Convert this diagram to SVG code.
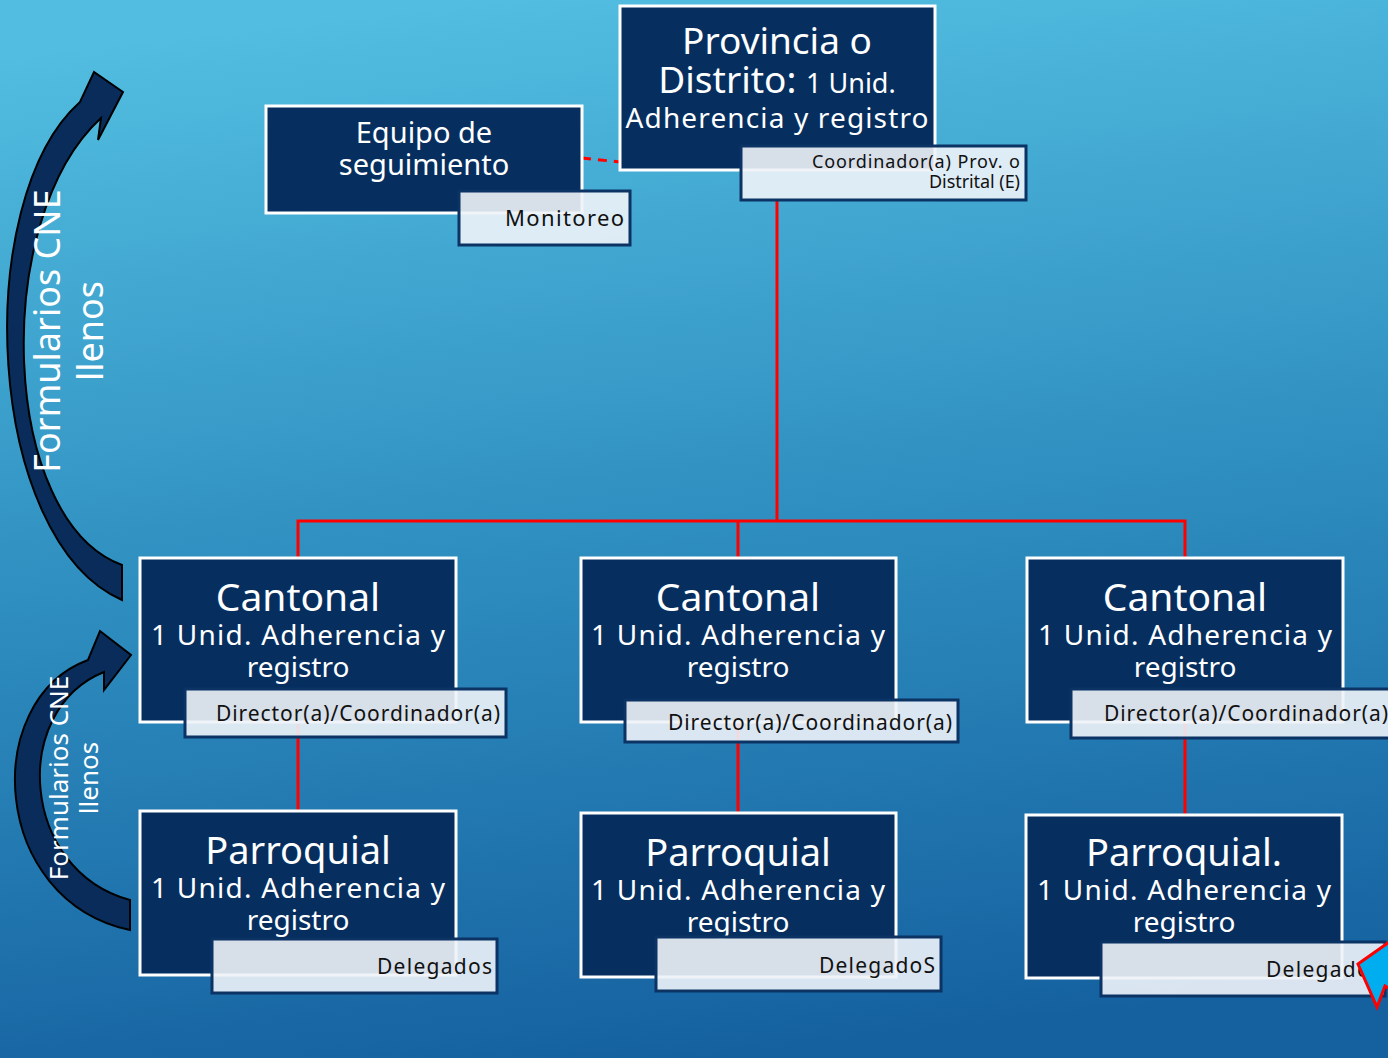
<svg xmlns="http://www.w3.org/2000/svg" width="1388" height="1058" viewBox="0 0 1388 1058">
<defs>
<linearGradient id="bg" x1="0.35" y1="0" x2="0.5" y2="1">
<stop offset="0" stop-color="#52bde0"/>
<stop offset="0.5" stop-color="#2f8fc0"/>
<stop offset="1" stop-color="#1561a0"/>
</linearGradient>
<style>
.node{fill:#062f60;stroke:#ffffff;stroke-width:3}
.lbl{fill:#eef3f8;fill-opacity:0.9;stroke:#0b3364;stroke-width:3}
.t{font-family:"Noto Sans","DejaVu Sans",sans-serif;fill:#ffffff;text-anchor:middle}
.l{font-family:"Noto Sans","DejaVu Sans",sans-serif;fill:#111111;text-anchor:end}
.red{stroke:#ff0000;stroke-width:3;fill:none}
.arr{fill:#092c5a;stroke:#000000;stroke-width:2}
.side{font-family:"Noto Sans","DejaVu Sans",sans-serif;fill:#ffffff;text-anchor:middle}
</style>
</defs>
<rect x="0" y="0" width="1388" height="1058" fill="url(#bg)"/>

<g id="arrows">
<path class="arr" d="M 122 600 C -15 540, -30 200, 80 102 L 94 72 L 123 92 L 98 140 L 101 118 C -10 220, 0 520, 122 565 Z"/>
<path class="arr" d="M 130 930 C -10 900, -20 700, 88 660 L 100 631 L 131 655 L 104 690 L 104 672 C 10 710, 20 870, 130 900 Z"/>
</g>

<g id="side-labels">
<text class="side" font-size="36" transform="translate(60 331) rotate(-90)">Formularios CNE</text>
<text class="side" font-size="36" transform="translate(103 331) rotate(-90)">llenos</text>
<text class="side" font-size="26" transform="translate(68 778) rotate(-90)">Formularios CNE</text>
<text class="side" font-size="26" transform="translate(98 778) rotate(-90)">llenos</text>
</g>

<g id="connectors">
<line class="red" x1="582" y1="158" x2="620" y2="162" stroke-dasharray="9 7"/>
<polyline class="red" points="777,200 777,521"/>
<polyline class="red" points="298,558 298,521 1185,521 1185,558"/>
<line class="red" x1="738" y1="521" x2="738" y2="558"/>
<line class="red" x1="298" y1="722" x2="298" y2="811"/>
<line class="red" x1="738" y1="722" x2="738" y2="813"/>
<line class="red" x1="1185" y1="722" x2="1185" y2="815"/>
</g>

<g id="node-provincia">
<rect class="node" x="620" y="6" width="315" height="164"/>
<text class="t" x="777" y="54" font-size="37">Provincia o</text>
<text class="t" x="777" y="93"><tspan font-size="37">Distrito: </tspan><tspan font-size="27">1 Unid.</tspan></text>
<text class="t" x="777" y="128" font-size="28" textLength="303" lengthAdjust="spacing">Adherencia y registro</text>
<rect class="lbl" x="741" y="146" width="285" height="54"/>
<text class="l" x="1020" y="168" font-size="18" textLength="208" lengthAdjust="spacing">Coordinador(a) Prov. o</text>
<text class="l" x="1020" y="188" font-size="18" textLength="91" lengthAdjust="spacing">Distrital (E)</text>
</g>

<g id="node-equipo">
<rect class="node" x="266" y="106" width="316" height="107"/>
<text class="t" x="424" y="143" font-size="29">Equipo de</text>
<text class="t" x="424" y="175" font-size="29">seguimiento</text>
<rect class="lbl" x="459" y="191" width="171" height="54"/>
<text class="l" x="624" y="226" font-size="22" textLength="119" lengthAdjust="spacing">Monitoreo</text>
</g>

<g id="node-cantonal-1">
<rect class="node" x="140" y="558" width="316" height="164"/>
<text class="t" x="298" y="611" font-size="39">Cantonal</text>
<text class="t" x="298" y="645" font-size="28" textLength="294" lengthAdjust="spacing">1 Unid. Adherencia y</text>
<text class="t" x="298" y="677" font-size="28">registro</text>
<rect class="lbl" x="185" y="689" width="321" height="48"/>
<text class="l" x="500" y="721" font-size="21" textLength="284" lengthAdjust="spacing">Director(a)/Coordinador(a)</text>
</g>

<g id="node-cantonal-2">
<rect class="node" x="581" y="558" width="315" height="164"/>
<text class="t" x="738" y="611" font-size="39">Cantonal</text>
<text class="t" x="738" y="645" font-size="28" textLength="294" lengthAdjust="spacing">1 Unid. Adherencia y</text>
<text class="t" x="738" y="677" font-size="28">registro</text>
<rect class="lbl" x="625" y="700" width="333" height="42"/>
<text class="l" x="952" y="730" font-size="21" textLength="284" lengthAdjust="spacing">Director(a)/Coordinador(a)</text>
</g>

<g id="node-cantonal-3">
<rect class="node" x="1027" y="558" width="316" height="164"/>
<text class="t" x="1185" y="611" font-size="39">Cantonal</text>
<text class="t" x="1185" y="645" font-size="28" textLength="294" lengthAdjust="spacing">1 Unid. Adherencia y</text>
<text class="t" x="1185" y="677" font-size="28">registro</text>
<rect class="lbl" x="1071" y="689" width="330" height="49"/>
<text class="l" x="1388" y="721" font-size="21" textLength="284" lengthAdjust="spacing">Director(a)/Coordinador(a)</text>
</g>

<g id="node-parroquial-1">
<rect class="node" x="140" y="811" width="316" height="164"/>
<text class="t" x="298" y="864" font-size="38">Parroquial</text>
<text class="t" x="298" y="898" font-size="28" textLength="294" lengthAdjust="spacing">1 Unid. Adherencia y</text>
<text class="t" x="298" y="930" font-size="28">registro</text>
<rect class="lbl" x="212" y="939" width="285" height="54"/>
<text class="l" x="492" y="974" font-size="21" textLength="115" lengthAdjust="spacing">Delegados</text>
</g>

<g id="node-parroquial-2">
<rect class="node" x="581" y="813" width="315" height="164"/>
<text class="t" x="738" y="866" font-size="38">Parroquial</text>
<text class="t" x="738" y="900" font-size="28" textLength="294" lengthAdjust="spacing">1 Unid. Adherencia y</text>
<text class="t" x="738" y="932" font-size="28">registro</text>
<rect class="lbl" x="656" y="937" width="285" height="54"/>
<text class="l" x="935" y="973" font-size="21" textLength="116" lengthAdjust="spacing">DelegadoS</text>
</g>

<g id="node-parroquial-3">
<rect class="node" x="1026" y="815" width="316" height="163"/>
<text class="t" x="1184" y="866" font-size="38">Parroquial.</text>
<text class="t" x="1184" y="900" font-size="28" textLength="294" lengthAdjust="spacing">1 Unid. Adherencia y</text>
<text class="t" x="1184" y="932" font-size="28">registro</text>
<rect class="lbl" x="1101" y="942" width="284" height="54"/>
<text class="l" x="1381" y="977" font-size="21" textLength="115" lengthAdjust="spacing">Delegados</text>
</g>

<g id="cursor">
<path d="M 1358 964 L 1392 940 L 1392 990 L 1385 986 L 1377 1007 Z" fill="#00aeef" stroke="#ff0000" stroke-width="3"/>
</g>
</svg>
